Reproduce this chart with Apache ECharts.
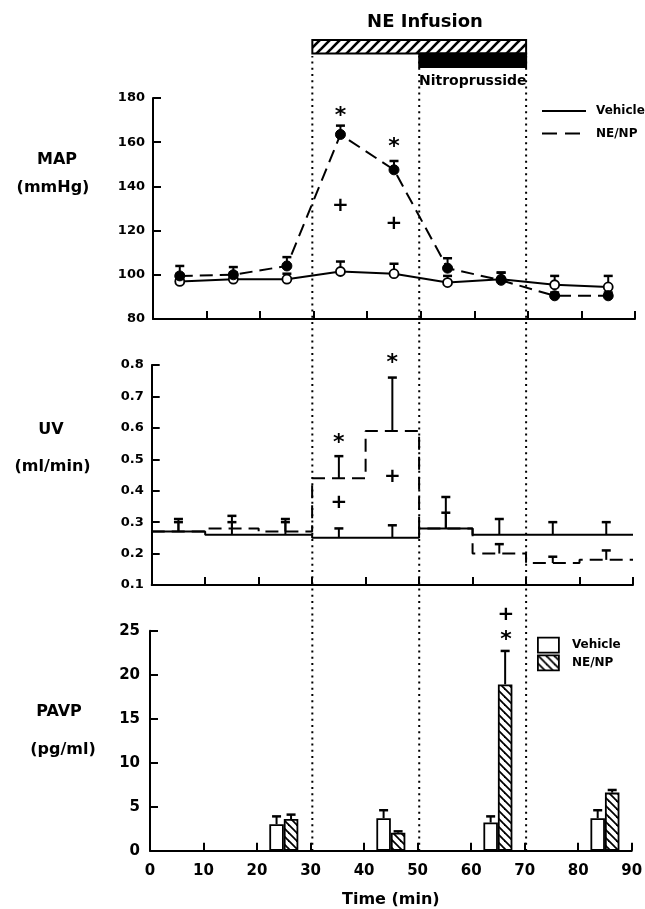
<!DOCTYPE html>
<html><head><meta charset="utf-8">
<script src="https://cdn.jsdelivr.net/npm/echarts@6/dist/echarts.min.js"></script>
<style>html,body{margin:0;padding:0;background:#fff}#c{width:645px;height:909px}</style>
</head><body><div id="c"></div>
<script>
// ---------- data ----------
const xMin = 0, xMax = 90, xStep = 10;

const mapTimes = [5, 15, 25, 35, 45, 55, 65, 75, 85];
const mapVehicle = [97, 98, 98, 101.5, 100.5, 96.5, 98, 95.5, 94.5];
const mapVehicleUpper = [100, 101, 100.5, 106, 105, 99.5, 101, 99.5, 99.5];
const mapNE = [99.5, 100, 104, 163.5, 147.5, 103, 97.5, 90.5, 90.5];
const mapNEUpper = [104, 103.5, 108, 167.5, 151.5, 107.5, 101, 92, 92];
const mapSigTimes = [35, 35, 45, 45];
const mapSigValues = [174, 131, 160, 123];
const mapSigText = ['*', '+', '*', '+'];

const uvEdges = [0, 10, 20, 30, 40, 50, 60, 70, 80, 90];
const uvMid = [5, 15, 25, 35, 45, 55, 65, 75, 85];
const uvVehicle = [0.27, 0.26, 0.26, 0.25, 0.25, 0.28, 0.26, 0.26, 0.26];
const uvVehicleUpper = [0.30, 0.30, 0.30, 0.28, 0.29, 0.33, 0.31, 0.30, 0.30];
const uvNE = [0.27, 0.28, 0.27, 0.44, 0.59, 0.28, 0.20, 0.17, 0.18];
const uvNEUpper = [0.31, 0.32, 0.31, 0.51, 0.76, 0.38, 0.23, 0.19, 0.21];
const uvSigTimes = [35, 35, 45, 45];
const uvSigValues = [0.567, 0.36, 0.82, 0.443];
const uvSigText = ['*', '+', '*', '+'];

const pavpTimes = [25, 45, 65, 85];
const pavpVehicle = [3.0, 3.7, 3.2, 3.7];
const pavpVehicleUpper = [3.9, 4.6, 3.9, 4.6];
const pavpNE = [3.6, 2.05, 18.9, 6.6];
const pavpNEUpper = [4.1, 2.2, 22.7, 6.9];
const pavpSigTimes = [66.5, 66.5];
const pavpSigValues = [26.8, 24.5];
const pavpSigText = ['+', '*'];

const neInfusion = [30, 70];
const npInfusion = [50, 70];
const periodLines = [30, 50, 70];

// ---------- helpers ----------
const FONT = '"DejaVu Sans", sans-serif';
function hatch(size, dir, lw) {
  const c = document.createElement('canvas');
  c.width = size; c.height = size;
  const g = c.getContext('2d');
  g.fillStyle = '#fff'; g.fillRect(0, 0, size, size);
  g.strokeStyle = '#000'; g.lineWidth = lw;
  for (const k of [-size, 0, size]) {
    g.beginPath();
    if (dir > 0) { g.moveTo(k - 2, size + 2); g.lineTo(k + size + 2, -2); }
    else { g.moveTo(k - 2, -2); g.lineTo(k + size + 2, size + 2); }
    g.stroke();
  }
  return c;
}
const topHatch = { image: hatch(10, 1, 2.6), repeat: 'repeat' };
const barHatch = { image: hatch(8, -1, 1.8), repeat: 'repeat' };

function stepPoints(edges, vals) {
  const pts = [];
  vals.forEach((v, i) => { pts.push([edges[i], v]); pts.push([edges[i + 1], v]); });
  return pts;
}
function errSeries(idx, xs, vals, ups, offsetPx) {
  return {
    type: 'custom', xAxisIndex: idx, yAxisIndex: idx, z: 3,
    data: xs.map((t, i) => [t, vals[i], ups[i]]),
    encode: { x: 0, y: [1, 2] },
    renderItem: (p, api) => {
      const a = api.coord([api.value(0), api.value(1)]);
      const b = api.coord([api.value(0), api.value(2)]);
      const cx = a[0] + offsetPx;
      return { type: 'group', children: [
        { type: 'line', shape: { x1: cx, y1: a[1], x2: cx, y2: b[1] }, style: { stroke: '#000', lineWidth: 2 } },
        { type: 'line', shape: { x1: cx - 4.5, y1: b[1], x2: cx + 4.5, y2: b[1] }, style: { stroke: '#000', lineWidth: 2.5 } }
      ]};
    }
  };
}
function sigSeries(idx, xs, vals, texts) {
  return {
    type: 'custom', xAxisIndex: idx, yAxisIndex: idx, z: 5, clip: false,
    data: xs.map((t, i) => [t, vals[i]]),
    renderItem: (p, api) => {
      const c = api.coord([api.value(0), api.value(1)]);
      const s = texts[p.dataIndex];
      const star = s === '*';
      return { type: 'text', x: c[0], y: c[1] + (star ? 5 : 0),
        style: { text: s, fill: '#000', align: 'center', verticalAlign: 'middle',
          font: 'bold ' + (star ? 22 : 20) + 'px ' + FONT } };
    }
  };
}
function xAxis(idx, showLabels) {
  return {
    type: 'value', gridIndex: idx, min: xMin, max: xMax, interval: xStep,
    axisLine: { show: true, onZero: false, lineStyle: { color: '#000', width: 2 } },
    axisTick: { show: true, inside: true, length: 8, lineStyle: { color: '#000', width: 2 } },
    axisLabel: { show: showLabels, color: '#000', fontSize: 15, fontWeight: 'bold', fontFamily: FONT, margin: 13 },
    splitLine: { show: false },
    name: showLabels ? 'Time (min)' : '', nameLocation: 'middle', nameGap: 41,
    nameTextStyle: { color: '#000', fontSize: 16, fontWeight: 'bold', fontFamily: FONT }
  };
}
function yAxis(idx, min, max, interval, fs, margin) {
  return {
    type: 'value', gridIndex: idx, min, max, interval,
    axisLine: { show: true, lineStyle: { color: '#000', width: 2 } },
    axisTick: { show: true, inside: true, length: 8, lineStyle: { color: '#000', width: 2 } },
    axisLabel: { color: '#000', fontSize: fs, fontWeight: 'bold', fontFamily: FONT, margin,
      formatter: v => interval < 1 ? v.toFixed(1) : String(v) },
    splitLine: { show: false }
  };
}
function hiddenAxes(idx, ymax) {
  return [
    { type: 'value', gridIndex: idx, min: xMin, max: xMax, show: false },
    { type: 'value', gridIndex: idx, min: 0, max: ymax, show: false }
  ];
}
const lbl = (text, x, y) => ({ type: 'text', x, y, style: { text, fill: '#000', align: 'center', verticalAlign: 'middle', font: 'bold 16px ' + FONT } });

const chart = echarts.init(document.getElementById('c'), null, { renderer: 'canvas' });
const h3 = hiddenAxes(3, 1), h4 = hiddenAxes(4, 2);
chart.setOption({
  animation: false,
  backgroundColor: '#fff',
  textStyle: { fontFamily: FONT },
  grid: [
    { left: 153, right: 10, top: 98, bottom: 590, outerBoundsMode: 'none' },
    { left: 151.7, right: 12, top: 365, bottom: 324, outerBoundsMode: 'none' },
    { left: 150, right: 13.3, top: 630.7, bottom: 58.3, outerBoundsMode: 'none' },
    { left: 152, right: 12, top: 56, bottom: 58, outerBoundsMode: 'none' },
    { left: 152, right: 12, top: 40, height: 27, outerBoundsMode: 'none' }
  ],
  xAxis: [xAxis(0, false), xAxis(1, false), xAxis(2, true), h3[0], h4[0]],
  yAxis: [yAxis(0, 80, 180, 20, 13, 8), yAxis(1, 0.1, 0.8, 0.1, 13, 8), yAxis(2, 0, 25, 5, 15, 10), h3[1], h4[1]],
  legend: [
    { data: ['Vehicle', 'NE/NP'], orient: 'vertical', left: 541, top: 104, padding: 0, itemWidth: 44, itemHeight: 14,
      itemGap: 8.6, selectedMode: false,
      itemStyle: { opacity: 0 },
      textStyle: { color: '#000', fontSize: 12, lineHeight: 14, fontWeight: 'bold', fontFamily: FONT, padding: [0, 0, 0, 5] } },
    { data: ['PAVP Vehicle', 'PAVP NE/NP'], orient: 'vertical', left: 537, top: 636.7, padding: 0, itemWidth: 21, itemHeight: 15,
      itemGap: 1, selectedMode: false, icon: 'rect', formatter: n => n.replace('PAVP ', ''),
      itemStyle: { borderColor: '#000', borderWidth: 1.8 },
      textStyle: { color: '#000', fontSize: 12, fontWeight: 'bold', fontFamily: FONT, padding: [0, 0, 0, 8] } }
  ],
  graphic: [
    { type: 'text', x: 425, y: 22, style: { text: 'NE Infusion', fill: '#000', align: 'center', verticalAlign: 'middle', font: 'bold 18px ' + FONT } },
    { type: 'text', x: 419, y: 81, style: { text: 'Nitroprusside', fill: '#000', align: 'left', verticalAlign: 'middle', font: 'bold 14px ' + FONT } },
    lbl('MAP', 57, 160), lbl('(mmHg)', 53, 188),
    lbl('UV', 51, 430), lbl('(ml/min)', 52.5, 467),
    lbl('PAVP', 59, 712), lbl('(pg/ml)', 63, 750)
  ],
  series: [
    // period dotted lines
    { type: 'custom', xAxisIndex: 3, yAxisIndex: 3, z: 1, silent: true,
      data: periodLines.map(t => [t]),
      renderItem: (p, api) => {
        const a = api.coord([api.value(0), 0]), b = api.coord([api.value(0), 1]);
        return { type: 'line', shape: { x1: a[0], y1: a[1], x2: b[0], y2: b[1] }, style: { stroke: '#000', lineWidth: 2, lineDash: [2, 4.2] } };
      } },
    // infusion bars
    { type: 'custom', xAxisIndex: 4, yAxisIndex: 4, z: 2, silent: true,
      data: [[neInfusion[0], neInfusion[1], 1, 2], [npInfusion[0], npInfusion[1], 0, 1]],
      renderItem: (p, api) => {
        const a = api.coord([api.value(0), api.value(3)]), b = api.coord([api.value(1), api.value(2)]);
        const hatched = p.dataIndex === 0;
        return { type: 'rect', shape: { x: a[0], y: a[1], width: b[0] - a[0], height: b[1] - a[1] },
          style: { fill: hatched ? topHatch : '#000', stroke: '#000', lineWidth: 2 } };
      } },
    // legend dummies (MAP)
    { name: 'Vehicle', type: 'line', xAxisIndex: 0, yAxisIndex: 0, data: [], symbol: 'none', lineStyle: { color: '#000', width: 2, type: 'solid' }, itemStyle: { color: '#000' } },
    { name: 'NE/NP', type: 'line', xAxisIndex: 0, yAxisIndex: 0, data: [], symbol: 'none', lineStyle: { color: '#000', width: 2, type: [15, 8] }, itemStyle: { color: '#000' } },
    // MAP
    errSeries(0, mapTimes, mapVehicle, mapVehicleUpper, 0),
    errSeries(0, mapTimes, mapNE, mapNEUpper, 0),
    { name: 'MAP Vehicle', type: 'line', xAxisIndex: 0, yAxisIndex: 0, z: 4,
      data: mapTimes.map((t, i) => [t, mapVehicle[i]]),
      symbol: 'circle', symbolSize: 9, lineStyle: { color: '#000', width: 2 },
      itemStyle: { color: '#fff', borderColor: '#000', borderWidth: 1.8 } },
    { name: 'MAP NE/NP', type: 'line', xAxisIndex: 0, yAxisIndex: 0, z: 4,
      data: mapTimes.map((t, i) => [t, mapNE[i]]),
      symbol: 'circle', symbolSize: 10, lineStyle: { color: '#000', width: 2, type: [13, 7] },
      itemStyle: { color: '#000', borderColor: '#000', borderWidth: 1 } },
    sigSeries(0, mapSigTimes, mapSigValues, mapSigText),
    // UV
    errSeries(1, uvMid, uvVehicle, uvVehicleUpper, 0),
    errSeries(1, uvMid, uvNE, uvNEUpper, 0),
    { name: 'UV Vehicle', type: 'line', xAxisIndex: 1, yAxisIndex: 1, z: 4, symbol: 'none',
      data: stepPoints(uvEdges, uvVehicle), lineStyle: { color: '#000', width: 2 } },
    { name: 'UV NE/NP', type: 'line', xAxisIndex: 1, yAxisIndex: 1, z: 4, symbol: 'none',
      data: stepPoints(uvEdges, uvNE), lineStyle: { color: '#000', width: 2, type: [13, 7] } },
    sigSeries(1, uvSigTimes, uvSigValues, uvSigText),
    // PAVP
    { name: 'PAVP Vehicle', type: 'bar', xAxisIndex: 2, yAxisIndex: 2, z: 3, barWidth: 14.5, barGap: '0%',
      data: pavpTimes.map((t, i) => [t, pavpVehicle[i]]),
      itemStyle: { color: '#fff', borderColor: '#000', borderWidth: 1.8 } },
    { name: 'PAVP NE/NP', type: 'bar', xAxisIndex: 2, yAxisIndex: 2, z: 3, barWidth: 14.5, barGap: '0%',
      data: pavpTimes.map((t, i) => [t, pavpNE[i]]),
      itemStyle: { color: barHatch, borderColor: '#000', borderWidth: 1.8 } },
    errSeries(2, pavpTimes, pavpVehicle, pavpVehicleUpper, -7.25),
    errSeries(2, pavpTimes, pavpNE, pavpNEUpper, 7.25),
    sigSeries(2, pavpSigTimes, pavpSigValues, pavpSigText)
  ]
});
</script>
</body></html>
